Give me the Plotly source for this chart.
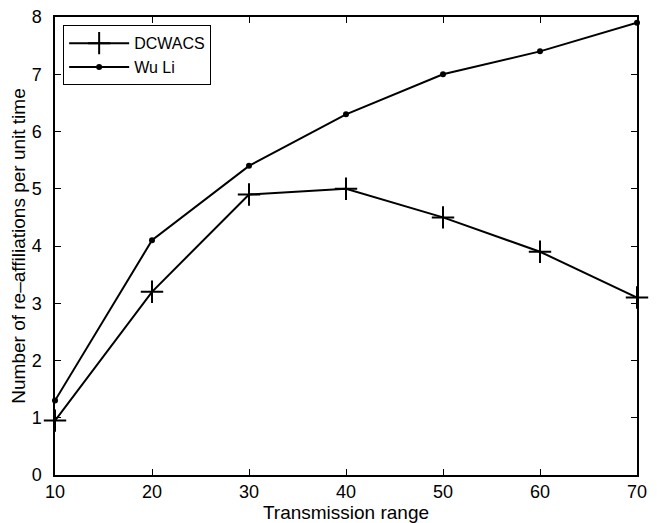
import plotly.graph_objects as go

x_range = [10, 20, 30, 40, 50, 60, 70]
dcwacs = [0.95, 3.2, 4.9, 5.0, 4.5, 3.9, 3.1]
wuli = [1.3, 4.1, 5.4, 6.3, 7.0, 7.4, 7.9]

FONT = "Liberation Sans, Arial, Helvetica"

fig = go.Figure()
fig.add_trace(go.Scatter(
    x=x_range, y=dcwacs, name="DCWACS", mode="lines+markers", cliponaxis=False,
    line=dict(color="black", width=2),
    marker=dict(symbol="cross-thin", size=16, line=dict(color="black", width=2)),
))
fig.add_trace(go.Scatter(
    x=x_range, y=wuli, name="Wu Li", mode="lines+markers", cliponaxis=False,
    line=dict(color="black", width=2),
    marker=dict(symbol="circle", size=6, color="black"),
))

axis_common = dict(
    showgrid=False, zeroline=False, showline=True, linecolor="black", linewidth=1.5,
    mirror="ticks", ticks="inside", ticklen=6, tickwidth=1.2, tickcolor="black",
    tickfont=dict(family=FONT, size=18, color="black"), automargin=False,
    ticklabeloverflow="allow",
)

fig.update_layout(
    width=649, height=515,
    margin=dict(l=47, r=20, t=9, b=48),
    paper_bgcolor="white", plot_bgcolor="white",
    font=dict(family=FONT, size=18, color="black"),
    xaxis=dict(range=[10, 70], dtick=10, ticklabelstandoff=0,
               title=dict(text="Transmission range", standoff=0, font=dict(size=19)), **axis_common),
    yaxis=dict(range=[0, 8], dtick=1, ticklabelstandoff=8,
               title=dict(text="Number of re\u2013affiliations per unit time", standoff=4, font=dict(size=19)), **axis_common),
    legend=dict(x=0.014, y=0.982, xanchor="left", yanchor="top",
                bgcolor="white", bordercolor="black", borderwidth=1,
                font=dict(size=16), tracegroupgap=0, itemwidth=60),
    showlegend=True,
)

fig.write_html("out.html")
